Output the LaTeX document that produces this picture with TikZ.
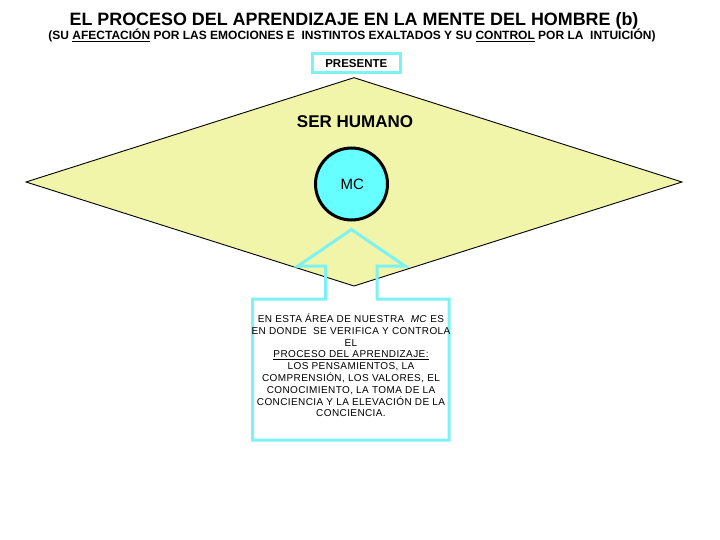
\documentclass[tikz,border=0pt]{standalone}
\usepackage{fontspec}
\setmainfont{Liberation Sans}
\newfontfamily\boxfont[LetterSpace=4]{Liberation Sans}
\definecolor{diamondfill}{RGB}{240,245,170}
\definecolor{cyanline}{RGB}{125,242,242}
\definecolor{mcfill}{RGB}{102,255,255}
\tikzset{
  txt/.style={inner sep=0pt, anchor=base},
  cyanbox/.style={draw=cyanline, line width=3pt},
  boxline/.style={txt, font=\boxfont\fontsize{10}{12}\selectfont},
}
\begin{document}
\begin{tikzpicture}[x=1pt,y=-1pt]
\useasboundingbox (0,0) rectangle (720,540);
\fill[white] (0,0) rectangle (720,540);
% title
\node[txt, font=\bfseries\fontsize{17.9}{20}\selectfont] (title) at (354,25.5)
  {EL PROCESO DEL APRENDIZAJE EN LA MENTE DEL HOMBRE (b)};
\node[txt, font=\bfseries\fontsize{12}{14}\selectfont] (subtitle) at (352,39.5)
  {(SU \underline{AFECTACIÓN} POR LAS EMOCIONES E\ \ INSTINTOS EXALTADOS Y SU \underline{CONTROL} POR LA\ \ INTUICIÓN)};
% presente box
\draw[cyanbox] (312.7,54) rectangle (400,72.7);
\node[txt, font=\bfseries\fontsize{11.5}{13}\selectfont] (presente) at (356.3,67.3) {PRESENTE};
% diamond
\coordinate (dtop) at (354,77.7);
\coordinate (dright) at (682,182);
\coordinate (dbottom) at (354,286);
\coordinate (dleft) at (26,182);
\draw[fill=diamondfill, draw=black, line width=0.9pt] (dtop) -- (dright) -- (dbottom) -- (dleft) -- cycle;
\node[txt, font=\bfseries\fontsize{17}{19}\selectfont] (ser) at (355,127.5) {SER HUMANO};
% MC circle
\node[circle, draw=black, line width=3pt, fill=mcfill, minimum size=72pt, inner sep=0pt] (mc) at (351.5,184) {};
\node[txt, font=\fontsize{15}{17}\selectfont] (mctext) at (352.3,189.3) {MC};
% arrow callout
\coordinate (tip) at (351.5,229.5);
\draw[cyanbox, line join=miter] (325.5,299) -- (252.7,299) -- (252.7,440) -- (449,440) -- (449,299)
  -- (377,299) -- (377,266) -- (405,266) -- (tip) -- (298,266) -- (325.5,266) -- cycle;
% callout text
\node[boxline] (l1) at (351,322.5) {EN ESTA ÁREA DE NUESTRA\ \ \textit{MC} ES};
\node[boxline] (l2) at (351,334.3) {EN DONDE\ \ SE VERIFICA Y CONTROLA};
\node[boxline] (l3) at (351,346.1) {EL};
\node[boxline] (l4) at (351,357.9) {\underline{PROCESO DEL APRENDIZAJE:}};
\node[boxline] (l5) at (351,369.7) {LOS PENSAMIENTOS, LA};
\node[boxline] (l6) at (351,381.5) {COMPRENSIÓN, LOS VALORES, EL};
\node[boxline] (l7) at (351,393.3) {CONOCIMIENTO, LA TOMA DE LA};
\node[boxline] (l8) at (351,405.1) {CONCIENCIA Y LA ELEVACIÓN DE LA};
\node[boxline] (l9) at (351,416.9) {CONCIENCIA.};
\end{tikzpicture}
\end{document}
